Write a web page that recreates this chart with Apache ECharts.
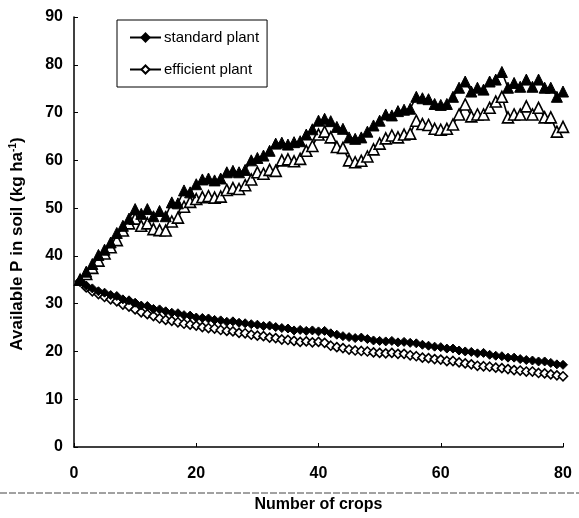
<!DOCTYPE html>
<html>
<head>
<meta charset="utf-8">
<script src="https://cdn.jsdelivr.net/npm/echarts@6/dist/echarts.min.js"></script>
<style>
  html, body { margin: 0; padding: 0; background: #fff; }
  #chart { width: 579px; height: 518px; }
</style>
</head>
<body>
<div id="chart"></div>
<script>
  // crop number 1..80
  let crops = []
  for (let i = 1; i <= 80; i++) crops.push(i)

  let stdHigh = [35, 36.7, 38.3, 40.2, 41.3, 42.8, 44.8, 46.3, 47.8, 49.8,
    48.8, 49.8, 48.3, 49.4, 48.3, 51.2, 51, 53.7, 53.3, 55,
    56, 56.2, 55.8, 56.2, 57.5, 57.8, 57.5, 58, 60, 60.5,
    61, 62, 63.5, 63.7, 63.3, 63.8, 64, 65.4, 66.5, 68.3,
    68.7, 68.2, 67, 66.6, 64.8, 64.5, 64.8, 66, 67.3, 68.3,
    69.6, 69.4, 70.3, 70.6, 70.8, 73.3, 73, 72.8, 71.8, 71.6,
    71.8, 73.3, 75.2, 76.5, 74.4, 75.2, 74.8, 76.5, 76.9, 78.5,
    75.2, 76.2, 75.4, 76.9, 75.4, 76.9, 75.2, 75.2, 73.3, 74.4]
  let effHigh = [35, 36.2, 37.5, 39, 40.5, 41.8, 43.3, 45.3, 46.8, 47.8,
    46.3, 46.8, 45.6, 45.4, 45.3, 47.2, 48, 50.3, 51.3, 51.9,
    52.3, 52.5, 52.2, 52.4, 53.8, 54.2, 54, 54.8, 56, 57.5,
    57.2, 58, 57.8, 60, 60.2, 59.8, 60.3, 62, 63, 65.4,
    66, 64.8, 62.8, 62.6, 60, 59.6, 59.9, 60.8, 62.3, 63.5,
    64.6, 65.2, 64.8, 65.4, 65.6, 68.3, 67.6, 67.4, 66.6, 66.4,
    66.6, 67.5, 69.6, 71.7, 69.2, 69.6, 69.6, 71, 72.3, 73.3,
    69, 69.6, 69.6, 71.3, 69.6, 71, 69, 69, 66, 67]
  let stdLow = [34.8, 33.8, 33.2, 32.6, 32.3, 31.8, 31.6, 30.9, 30.7, 30.2,
    29.6, 29.5, 28.9, 28.8, 28.4, 28.1, 28, 27.6, 27.5, 27.1,
    27, 26.9, 26.6, 26.5, 26.2, 26.3, 26, 25.9, 25.7, 25.6,
    25.3, 25.4, 25.1, 24.9, 24.8, 24.4, 24.5, 24.3, 24.4, 24.2,
    24.3, 23.8, 23.5, 23.2, 23, 22.8, 22.9, 22.6, 22.3, 22.2,
    22.1, 22.2, 21.9, 22, 21.8, 21.7, 21.4, 21.2, 21, 20.9,
    20.6, 20.6, 20.2, 20, 19.9, 19.6, 19.7, 19.3, 19.1, 19,
    18.7, 18.7, 18.4, 18.2, 18.1, 17.9, 17.9, 17.6, 17.3, 17.2]
  let effLow = [34.6, 33.4, 32.6, 32, 31.4, 30.9, 30.5, 29.8, 29.4, 28.8,
    28.2, 27.8, 27.4, 26.9, 26.6, 26.4, 26.1, 25.8, 25.6, 25.4,
    25.1, 24.9, 24.8, 24.5, 24.3, 24.2, 23.9, 23.8, 23.5, 23.3,
    23.2, 22.9, 22.8, 22.5, 22.4, 22.2, 22, 22.1, 21.9, 22,
    21.8, 21.2, 20.9, 20.7, 20.4, 20.2, 20.1, 20, 19.8, 19.7,
    19.6, 19.7, 19.5, 19.5, 19.2, 19, 18.7, 18.6, 18.4, 18.3,
    18, 18, 17.7, 17.5, 17.3, 17, 16.9, 16.8, 16.6, 16.5,
    16.3, 16.1, 16, 15.8, 15.8, 15.5, 15.4, 15.2, 15, 14.8]

  let font = 'Liberation Sans, Arial, sans-serif'
  let pairs = vals => crops.map((c, i) => [c, vals[i]])

  let filled = {color: '#000', borderColor: '#000', borderWidth: 1}
  let open = {color: '#fff', borderColor: '#000', borderWidth: 1.6}
  let mk = (name, vals, symbol, size, style) => ({
    name: name,
    type: 'line',
    data: pairs(vals),
    symbol: symbol,
    symbolSize: size,
    showAllSymbol: true,
    itemStyle: style,
    lineStyle: {color: '#000', width: 1.6},
    z: style === filled ? 3 : 2
  })

  let myChart = echarts.init(document.getElementById('chart'))
  let option = {
    animation: false,
    backgroundColor: '#fff',
    grid: {left: 73, right: 16, top: 17, bottom: 69},
    legend: {
      data: ['standard plant', 'efficient plant'],
      orient: 'vertical',
      left: 117,
      top: 20,
      padding: [10, 8, 10, 12],
      itemGap: 17,
      itemWidth: 31,
      itemHeight: 10,
      borderColor: '#000',
      borderWidth: 1,
      borderRadius: 0,
      textStyle: {fontFamily: font, fontSize: 15, color: '#000', padding: [0, 0, 0, -2]}
    },
    xAxis: {
      type: 'value',
      min: 0,
      max: 80,
      interval: 20,
      name: 'Number of crops',
      nameLocation: 'middle',
      nameGap: 50,
      nameTextStyle: {fontFamily: font, fontSize: 16, fontWeight: 'bold', color: '#000'},
      axisLine: {lineStyle: {color: '#000', width: 1.5}},
      axisTick: {inside: true, length: 4, lineStyle: {color: '#000'}},
      axisLabel: {fontFamily: font, fontSize: 16, fontWeight: 'bold', color: '#000', margin: 19},
      splitLine: {show: false}
    },
    yAxis: {
      type: 'value',
      min: 0,
      max: 90,
      interval: 10,
      name: '{a|Available P in soil (kg ha}{s|-1}{a|)}',
      nameLocation: 'middle',
      nameGap: 47,
      nameTextStyle: {
        padding: [0, 24, 0, 0],
        rich: {
          a: {fontFamily: font, fontSize: 17, fontWeight: 'bold', color: '#000'},
          s: {fontFamily: font, fontSize: 10, fontWeight: 'bold', color: '#000', verticalAlign: 'top', padding: [0, 0, 9, 0]}
        }
      },
      axisLine: {show: true, lineStyle: {color: '#000', width: 1.5}},
      axisTick: {show: true, inside: true, length: 4, lineStyle: {color: '#000'}},
      axisLabel: {fontFamily: font, fontSize: 16, fontWeight: 'bold', color: '#000', margin: 11},
      splitLine: {show: false}
    },
    graphic: [{
      type: 'line',
      shape: {x1: 0, y1: 493, x2: 579, y2: 493},
      style: {stroke: '#444', lineWidth: 1, lineDash: [7, 2]},
      silent: true
    }],
    series: [
      mk('standard plant', stdLow, 'diamond', 9, filled),
      mk('efficient plant', effLow, 'diamond', 9, open),
      mk('standard plant (P)', stdHigh, 'triangle', 11, filled),
      mk('efficient plant (P)', effHigh, 'triangle', 11, open)
    ]
  }
  myChart.setOption(option)
</script>
</body>
</html>
